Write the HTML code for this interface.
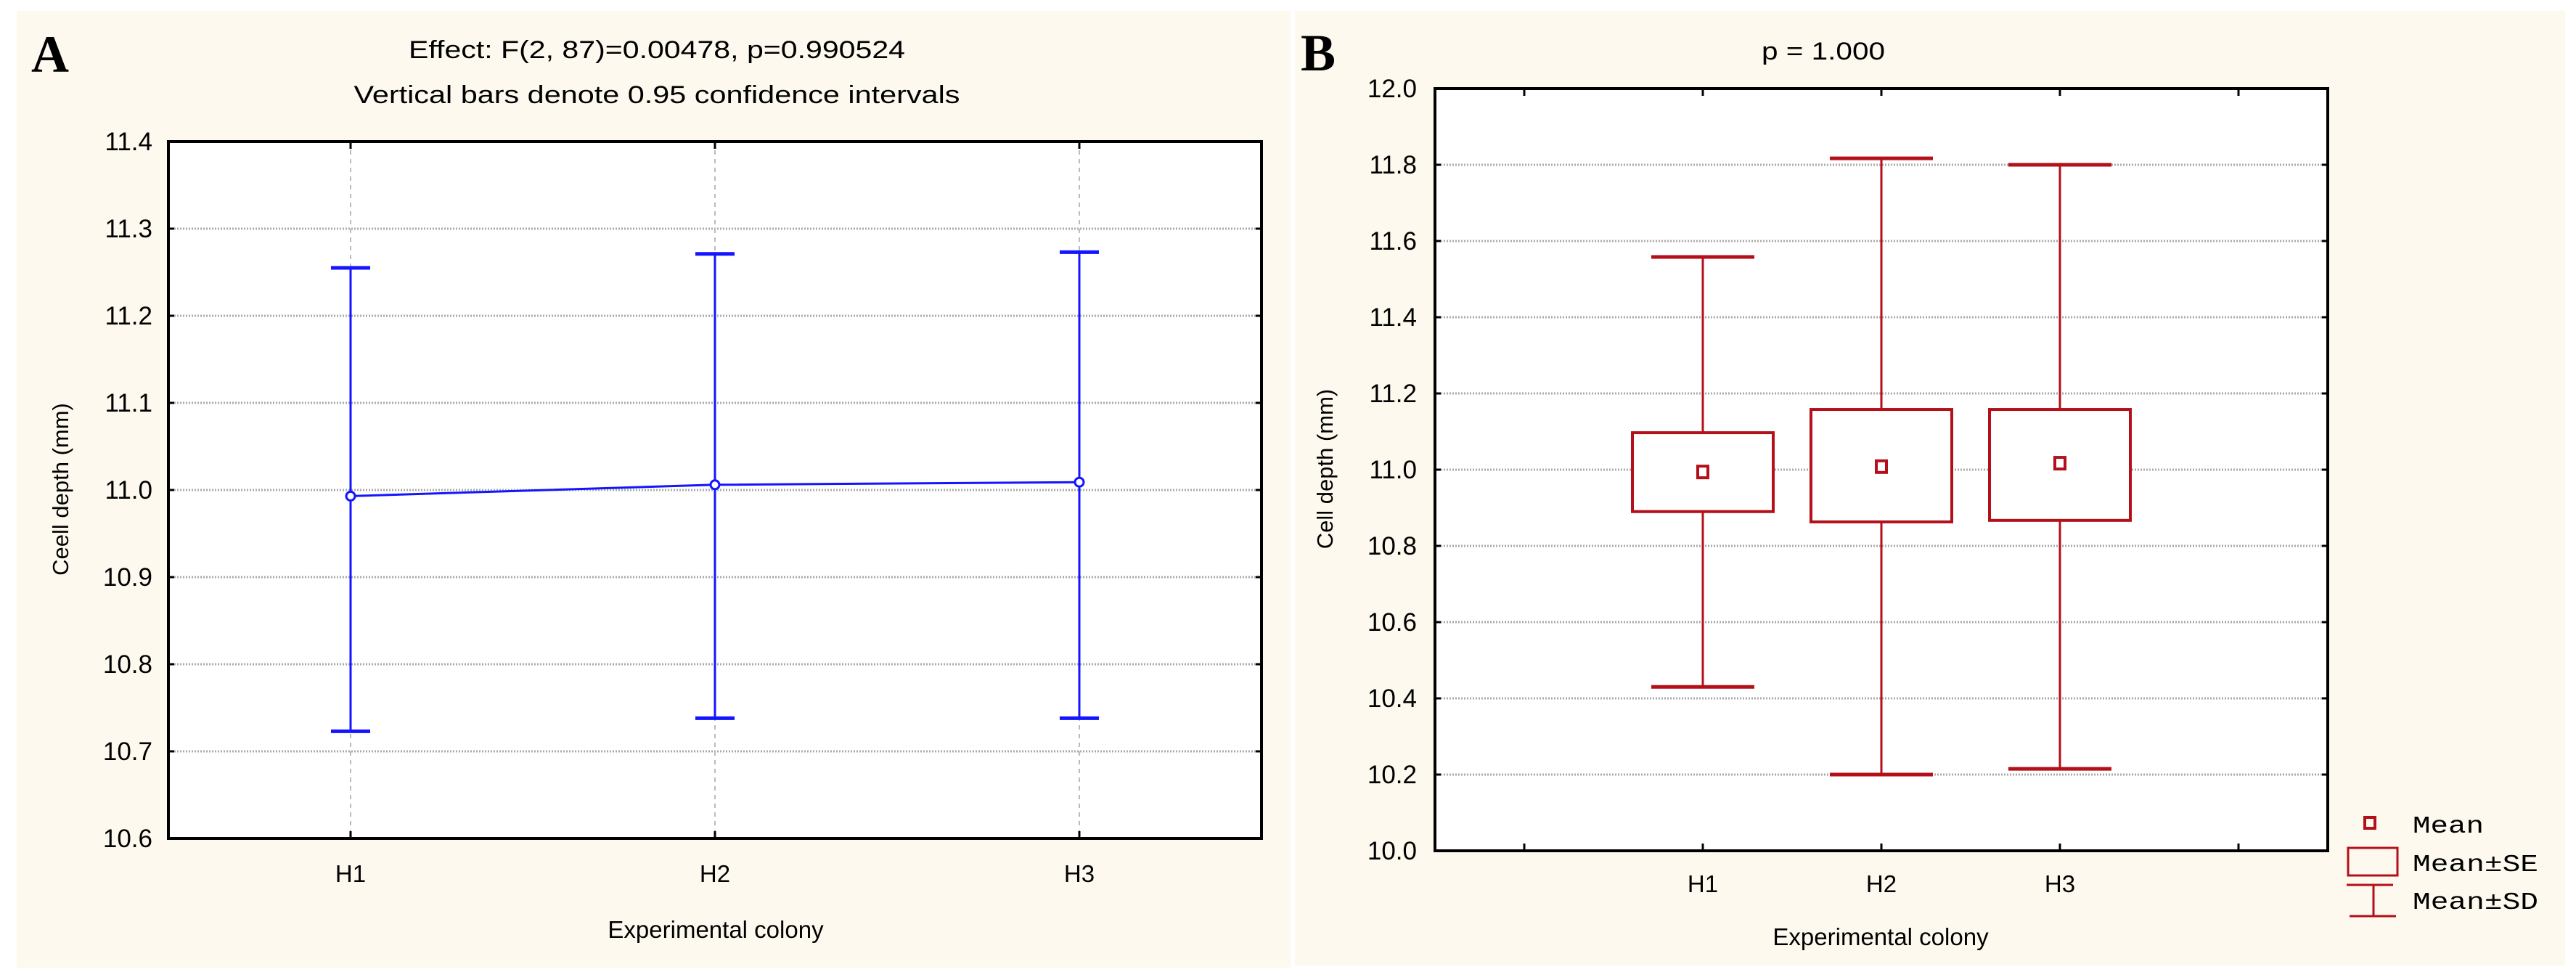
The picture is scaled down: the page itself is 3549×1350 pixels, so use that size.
<!DOCTYPE html>
<html><head><meta charset="utf-8"><style>
html,body{margin:0;padding:0;background:#fff;}
svg{display:block;font-family:"Liberation Sans",Arial,sans-serif;}
</style></head><body>
<svg id="fig" width="3549" height="1350" viewBox="0 0 3549 1350" xmlns="http://www.w3.org/2000/svg">
<rect x="23" y="15" width="1755" height="1318" fill="#fdf9ee"/>
<rect x="1784" y="15" width="1750" height="1315" fill="#fdf9ee"/>
<text x="43" y="99" font-family="Liberation Serif,serif" font-weight="bold" font-size="72">A</text>
<text x="1792" y="97" font-family="Liberation Serif,serif" font-weight="bold" font-size="72">B</text>
<text x="905" y="80" text-anchor="middle" font-size="34" textLength="684" lengthAdjust="spacingAndGlyphs">Effect: F(2, 87)=0.00478, p=0.990524</text>
<text x="905" y="142" text-anchor="middle" font-size="34" textLength="835" lengthAdjust="spacingAndGlyphs">Vertical bars denote 0.95 confidence intervals</text>
<text x="2512" y="82" text-anchor="middle" font-size="34" textLength="170" lengthAdjust="spacingAndGlyphs">p = 1.000</text>
<g id="ga"></g>
<g id="gb"></g>
</svg>
<script>
const NS="http://www.w3.org/2000/svg";
// Panel A data
const catsA=["H1","H2","H3"];
const meansA=[10.993,11.006,11.009];
const ciHighA=[11.255,11.271,11.273];
const ciLowA=[10.723,10.738,10.738];
const ticksA=["10.6","10.7","10.8","10.9","11.0","11.1","11.2","11.3","11.4"];
// Panel B data
const catsB=["","H1","H2","H3",""];
const meansB=[null,10.994,11.008,11.017,null];
const seHighB=[null,11.097,11.158,11.158,null];
const seLowB=[null,10.890,10.863,10.867,null];
const sdHighB=[null,11.558,11.817,11.800,null];
const sdLowB=[null,10.430,10.200,10.215,null];
const ticksB=["10.0","10.2","10.4","10.6","10.8","11.0","11.2","11.4","11.6","11.8","12.0"];

function mk(parent,tag,attrs){const e=document.createElementNS(NS,tag);for(const k in attrs)e.setAttribute(k,attrs[k]);parent.appendChild(e);return e;}

// ---------- Panel A ----------
const ga=document.getElementById('ga');
const A={l:232,t:195,r:1738,b:1155,min:10.6,max:11.4};
const yA=v=>A.b-(v-A.min)/(A.max-A.min)*(A.b-A.t);
const xA=i=>A.l+(i+0.5)*(A.r-A.l)/catsA.length;
mk(ga,'rect',{x:A.l,y:A.t,width:A.r-A.l,height:A.b-A.t,fill:'#fff'});
ticksA.forEach(t=>{
  const y=yA(parseFloat(t));
  if(y>A.t+2&&y<A.b-2){
    const g=mk(ga,'line',{x1:A.l,x2:A.r,y1:y,y2:y,stroke:'#aaa','stroke-width':3,'stroke-dasharray':'2 2'});
    
    
  }
  mk(ga,'line',{x1:A.l,x2:A.l+8,y1:y,y2:y,stroke:'#000','stroke-width':3});
  mk(ga,'line',{x1:A.r-8,x2:A.r,y1:y,y2:y,stroke:'#000','stroke-width':3});
  const tx=mk(ga,'text',{x:210,y:y+12,'text-anchor':'end','font-size':35});
  tx.textContent=t;
  
  
});
catsA.forEach((c,i)=>{
  const x=xA(i);
  mk(ga,'line',{x1:x,x2:x,y1:A.t,y2:A.b,stroke:'#bbb','stroke-width':2,'stroke-dasharray':'6 6'});
  mk(ga,'line',{x1:x,x2:x,y1:A.b-10,y2:A.b,stroke:'#000','stroke-width':3});
  mk(ga,'line',{x1:x,x2:x,y1:A.t,y2:A.t+10,stroke:'#000','stroke-width':3});
  const tx=mk(ga,'text',{x:x,y:1215,'text-anchor':'middle','font-size':33});
  tx.textContent=c;
  
  
});
catsA.forEach((c,i)=>{
  const x=xA(i);
  const g=mk(ga,'g',{stroke:'#1414ff',fill:'none'});
  
  
  mk(g,'line',{x1:x,x2:x,y1:yA(ciHighA[i]),y2:yA(ciLowA[i]),'stroke-width':3});
  mk(g,'line',{x1:x-27,x2:x+27,y1:yA(ciHighA[i]),y2:yA(ciHighA[i]),'stroke-width':5});
  mk(g,'line',{x1:x-27,x2:x+27,y1:yA(ciLowA[i]),y2:yA(ciLowA[i]),'stroke-width':5});
});
const pl=mk(ga,'polyline',{points:meansA.map((v,i)=>xA(i)+','+yA(v)).join(' '),fill:'none',stroke:'#1414ff','stroke-width':3});


meansA.forEach((v,i)=>{
  const c=mk(ga,'circle',{cx:xA(i),cy:yA(v),r:6,fill:'#fff',stroke:'#1414ff','stroke-width':3});
  
  
});
mk(ga,'rect',{x:A.l,y:A.t,width:A.r-A.l,height:A.b-A.t,fill:'none',stroke:'#000','stroke-width':4});
let t=mk(ga,'text',{x:986,y:1292,'text-anchor':'middle','font-size':33});
t.textContent='Experimental colony';


t=mk(ga,'text',{x:0,y:0,'text-anchor':'middle','font-size':31,transform:'translate(94,674) rotate(-90)'});
t.textContent='Ceell depth (mm)';



// ---------- Panel B ----------
const gb=document.getElementById('gb');
const B={l:1977,t:122,r:3207,b:1172,min:10.0,max:12.0};
const yB=v=>B.b-(v-B.min)/(B.max-B.min)*(B.b-B.t);
const xB=i=>B.l+(i+0.5)*(B.r-B.l)/catsB.length;
mk(gb,'rect',{x:B.l,y:B.t,width:B.r-B.l,height:B.b-B.t,fill:'#fff'});
ticksB.forEach(tk=>{
  const y=yB(parseFloat(tk));
  if(y>B.t+2&&y<B.b-2){
    const g=mk(gb,'line',{x1:B.l,x2:B.r,y1:y,y2:y,stroke:'#aaa','stroke-width':3,'stroke-dasharray':'2 2'});
    
    
  }
  mk(gb,'line',{x1:B.l,x2:B.l+8,y1:y,y2:y,stroke:'#000','stroke-width':3});
  mk(gb,'line',{x1:B.r-8,x2:B.r,y1:y,y2:y,stroke:'#000','stroke-width':3});
  const tx=mk(gb,'text',{x:1952,y:y+12,'text-anchor':'end','font-size':35});
  tx.textContent=tk;
  
  
});
catsB.forEach((c,i)=>{
  const x=xB(i);
  mk(gb,'line',{x1:x,x2:x,y1:B.b-10,y2:B.b,stroke:'#000','stroke-width':3});
  mk(gb,'line',{x1:x,x2:x,y1:B.t,y2:B.t+10,stroke:'#000','stroke-width':3});
  if(c){
    const tx=mk(gb,'text',{x:x,y:1229,'text-anchor':'middle','font-size':33});
    tx.textContent=c;
    
    
  }
});
const red='#b3101a';
catsB.forEach((c,i)=>{
  if(meansB[i]===null)return;
  const x=xB(i);
  const g=mk(gb,'g',{stroke:red,fill:'none'});
  
  
  mk(g,'line',{x1:x,x2:x,y1:yB(sdHighB[i]),y2:yB(seHighB[i]),'stroke-width':3});
  mk(g,'line',{x1:x,x2:x,y1:yB(seLowB[i]),y2:yB(sdLowB[i]),'stroke-width':3});
  mk(g,'line',{x1:x-71,x2:x+71,y1:yB(sdHighB[i]),y2:yB(sdHighB[i]),'stroke-width':5});
  mk(g,'line',{x1:x-71,x2:x+71,y1:yB(sdLowB[i]),y2:yB(sdLowB[i]),'stroke-width':5});
  mk(g,'rect',{x:x-97,y:yB(seHighB[i]),width:194,height:yB(seLowB[i])-yB(seHighB[i]),fill:'#fff','stroke-width':4});
  mk(g,'rect',{x:x-7,y:yB(meansB[i])-8,width:14,height:16,fill:'#fff','stroke-width':4});
});
mk(gb,'rect',{x:B.l,y:B.t,width:B.r-B.l,height:B.b-B.t,fill:'none',stroke:'#000','stroke-width':4});
t=mk(gb,'text',{x:2591,y:1302,'text-anchor':'middle','font-size':33});
t.textContent='Experimental colony';


t=mk(gb,'text',{x:0,y:0,'text-anchor':'middle','font-size':31,transform:'translate(1836,646) rotate(-90)'});
t.textContent='Cell depth (mm)';


// legend
const lg=mk(gb,'g',{});


mk(lg,'rect',{x:3258,y:1126,width:14,height:15,fill:'none',stroke:red,'stroke-width':4});
mk(lg,'rect',{x:3235,y:1168,width:68,height:38,fill:'none',stroke:red,'stroke-width':3});
mk(lg,'line',{x1:3233,x2:3297,y1:1219,y2:1219,stroke:red,'stroke-width':3});
mk(lg,'line',{x1:3237,x2:3301,y1:1262,y2:1262,stroke:red,'stroke-width':3});
mk(lg,'line',{x1:3270,x2:3270,y1:1219,y2:1262,stroke:red,'stroke-width':3});
[["Mean",1147,98],["Mean±SE",1200,173],["Mean±SD",1252,173]].forEach(d=>{
  const tx=mk(lg,'text',{x:3324,y:d[1],'font-family':'Liberation Mono,monospace','font-size':33,textLength:d[2],lengthAdjust:'spacingAndGlyphs'});
  tx.textContent=d[0];
  
  
});
</script>
</body></html>
